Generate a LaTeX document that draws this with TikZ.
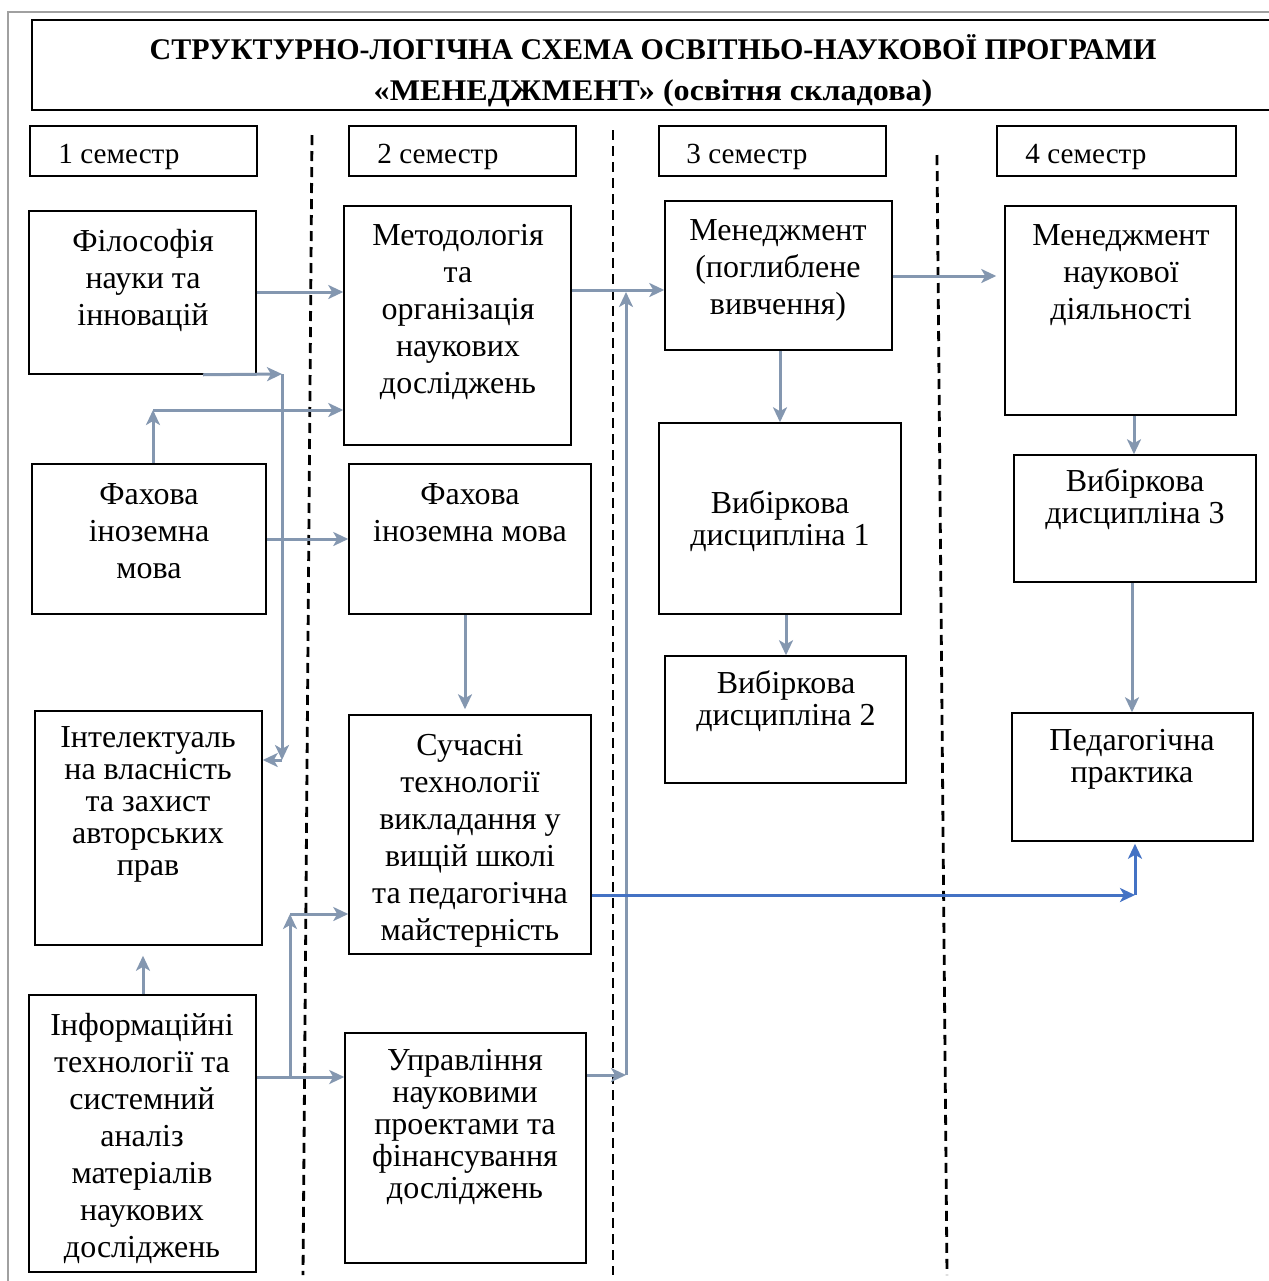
\documentclass[tikz,border=0pt]{standalone}
\usepackage{fontspec}
\setmainfont{Liberation Serif}
\usetikzlibrary{arrows.meta,fit}
\definecolor{arrc}{HTML}{8497B0}
\definecolor{bluec}{HTML}{4472C4}
\definecolor{framec}{HTML}{A0A0A0}
\begin{document}
\begin{tikzpicture}[x=0.5pt,y=-0.5pt,
  box/.style={draw=black, line width=0.75pt, inner sep=0pt, rectangle},
  txt/.style={font=\fontsize{16}{18.5}\selectfont, align=center, inner sep=0pt, anchor=north},
  txts/.style={font=\fontsize{16}{16}\selectfont, align=center, inner sep=0pt, anchor=north},
  sem/.style={font=\fontsize{14.6}{16}\selectfont, anchor=base west, inner sep=0pt},
  arr/.style={draw=arrc, line width=1.5pt, -{Stealth[length=7.5pt,width=7pt,inset=2pt]}},
  barr/.style={draw=bluec, line width=1.5pt, -{Stealth[length=7.5pt,width=7pt,inset=2pt]}},
  dsh/.style={draw=black, line width=1.4pt, dash pattern=on 5pt off 3pt}]
\useasboundingbox (0,0) rectangle (1269,1281);
\clip (0,0) rectangle (1269,1281);
% outer frame
\draw[framec, line width=1pt] (1280,12) -- (8,12) -- (8,1290);
% title
\node[box, line width=1pt, fit={(32,20) (1290,110)}] (title) {};
\node[font=\fontsize{15}{20.5}\selectfont\bfseries, align=center, inner sep=0pt, anchor=north] (titleT) at (653,34)
  {СТРУКТУРНО-ЛОГІЧНА СХЕМА ОСВІТНЬО-НАУКОВОЇ ПРОГРАМИ\\\scalebox{1.07}[1]{«МЕНЕДЖМЕНТ» (освітня складова)}};
% semesters
\node[box, fit={(30,126) (257,176)}] (s1) {};
\node[box, fit={(349,126) (576,176)}] (s2) {};
\node[box, fit={(659,126) (886,176)}] (s3) {};
\node[box, fit={(997,126) (1236,176)}] (s4) {};
\node[sem] (s1T) at (58,163) {1 семестр};
\node[sem] (s2T) at (377,163) {2 семестр};
\node[sem] (s3T) at (686,163) {3 семестр};
\node[sem] (s4T) at (1025,163) {4 семестр};
% dashed separators
\draw[dsh] (312,135) -- (303,1275);
\draw[dsh] (613,130) -- (613,1275);
\draw[dsh] (937,155) -- (947,1275);
% boxes
\node[box, fit={(29,211) (256,374)}] (fil) {};
\node[box, fit={(344,206) (571,445)}] (met) {};
\node[box, fit={(665,201) (892,350)}] (men) {};
\node[box, fit={(1005,206) (1236,415)}] (mnd) {};
\node[box, fit={(32,464) (266,614)}] (fah1) {};
\node[box, fit={(349,464) (591,614)}] (fah2) {};
\node[box, fit={(659,423) (901,614)}] (vyb1) {};
\node[box, fit={(1014,455) (1256,582)}] (vyb3) {};
\node[box, fit={(665,656) (906,783)}] (vyb2) {};
\node[box, fit={(35,711) (262,945)}] (int) {};
\node[box, fit={(349,715) (591,954)}] (suc) {};
\node[box, fit={(1012,713) (1253,841)}] (ped) {};
\node[box, fit={(29,995) (256,1272)}] (inf) {};
\node[box, fit={(345,1033) (586,1263)}] (upr) {};
% texts
\node[txt] (filT) at (143,229) {Філософія\\науки та\\інновацій};
\node[txt] (metT) at (458,224) {Методологія\\та\\організація\\наукових\\досліджень};
\node[txt] (menT) at (778,219) {Менеджмент\\(поглиблене\\вивчення)};
\node[txt] (mndT) at (1121,224) {Менеджмент\\наукової\\діяльності};
\node[txt] (fah1T) at (149,483) {Фахова\\іноземна\\мова};
\node[txt] (fah2T) at (470,483) {Фахова\\іноземна мова};
\node[txts] (vyb1T) at (780,490) {Вибіркова\\дисципліна 1};
\node[txts] (vyb3T) at (1135,468) {Вибіркова\\дисципліна 3};
\node[txts] (vyb2T) at (786,670) {Вибіркова\\дисципліна 2};
\node[txts] (intT) at (148,726) {Інтелектуаль\\на власність\\та захист\\авторських\\прав};
\node[txt] (sucT) at (470,734) {Сучасні\\технології\\викладання у\\вищій школі\\та педагогічна\\майстерність};
\node[txts] (pedT) at (1132,729) {Педагогічна\\практика};
\node[txt] (infT) at (142,1013) {Інформаційні\\технології та\\системний\\аналіз\\матеріалів\\наукових\\досліджень};
\node[txts] (uprT) at (465,1049) {Управління\\науковими\\проектами та\\фінансування\\досліджень};
% bend points
\coordinate (c1) at (282,374);
\coordinate (c2) at (282,760);
\coordinate (c3) at (153,410);
\coordinate (c4) at (626,1075);
\coordinate (c5) at (626,292);
\coordinate (c6) at (290,1077);
\coordinate (c7) at (290,914);
\coordinate (c8) at (1135,895);
% connectors
\draw[arr] (fil.east |- 0,292) -- (met.west |- 0,292);
\draw[arr] (fil.south -| 203,0) -- (c1);
\draw[arr] (c1) -- (c2);
\draw[arr] (c2) -- (int.east |- c2);
\draw[arr] (fah1.north -| c3) -- (c3);
\draw[arr] (c3) -- (met.west |- c3);
\draw[arr] (fah1.east |- 0,539) -- (fah2.west |- 0,539);
\draw[arr, shorten >=2.5pt] (fah2.south -| 465,0) -- (suc.north -| 465,0);
\draw[arr] (met.east |- 0,290) -- (men.west |- 0,290);
\draw[arr] (upr.east |- c4) -- (c4);
\draw[arr] (c4) -- (c5);
\draw[arr, shorten >=4pt] (men.east |- 0,276) -- (mnd.west |- 0,276);
\draw[arr] (men.south -| 780,0) -- (vyb1.north -| 780,0);
\draw[arr] (vyb1.south -| 786,0) -- (vyb2.north -| 786,0);
\draw[arr] (mnd.south -| 1134,0) -- (vyb3.north -| 1134,0);
\draw[arr] (vyb3.south -| 1132,0) -- (ped.north -| 1132,0);
\draw[arr, shorten >=5pt] (inf.north -| 143,0) -- (int.south -| 143,0);
\draw[arr] (inf.east |- c6) -- (upr.west |- c6);
\draw[arr] (c6) -- (c7);
\draw[arr] (c7) -- (suc.west |- c7);
\draw[barr] (suc.east |- c8) -- (c8);
\draw[barr, shorten >=1pt] (c8) -- (ped.south -| c8);
\end{tikzpicture}
\end{document}
